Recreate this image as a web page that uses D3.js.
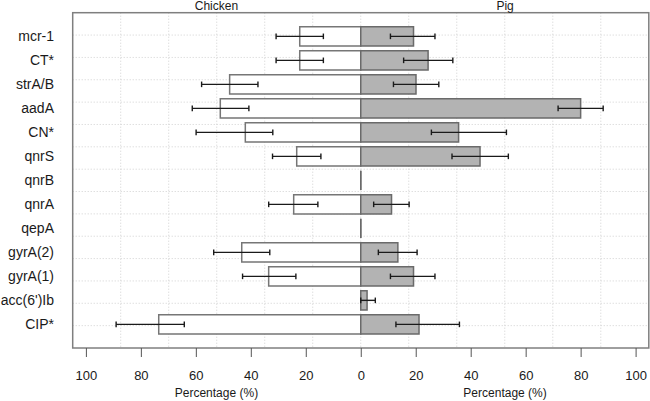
<!DOCTYPE html>
<html>
<head>
<meta charset="utf-8">
<script src="https://cdn.jsdelivr.net/npm/d3@7"></script>
<style>
  html, body { margin: 0; padding: 0; background: #fff; }
  svg { display: block; font-family: "Liberation Sans", Arial, Helvetica, sans-serif; }
</style>
</head>
<body>
<svg id="chart" width="650" height="401"></svg>
<script>
const categories = ["mcr-1", "CT*", "strA/B", "aadA", "CN*", "qnrS", "qnrB", "qnrA", "qepA", "gyrA(2)", "gyrA(1)", "acc(6')Ib", "CIP*"];

const chickenValues = [22.2, 22.2, 47.7, 51.1, 42.0, 23.3, 0, 24.4, 0, 43.3, 33.5, 0, 73.5];
const chickenLow    = [13.6, 13.6, 37.4, 40.7, 32.0, 14.5, null, 15.6, null, 33.1, 23.6, null, 64.2];
const chickenHigh   = [30.8, 30.8, 57.9, 61.3, 59.9, 32.1, null, 33.5, null, 53.5, 43.0, null, 89.0];

const pigValues = [19.2, 24.5, 20.1, 80.0, 35.6, 43.4, 0, 11.2, 0, 13.5, 19.2, 2.3, 21.2];
const pigLow    = [10.8, 15.6, 11.9, 71.8, 25.7, 33.2, null, 4.7, null, 6.4, 10.8, 0, 12.8];
const pigHigh   = [27.0, 33.5, 28.4, 88.2, 53.0, 53.7, null, 17.6, null, 20.5, 27.0, 5.3, 35.9];

const tickValues = [-100, -80, -60, -40, -20, 0, 20, 40, 60, 80, 100];
const groupTitles = ["Chicken", "Pig"];
const axisTitle = "Percentage (%)";

const svg = d3.select("#chart");
const box = { left: 72.7, right: 648.8, top: 12.7, bottom: 348 };

const x = d3.scaleLinear().domain([-104.8, 104.8]).range([box.left, box.right]);
const y = d3.scaleBand().domain(categories).range([box.top, box.bottom])
  .paddingInner(0.2).paddingOuter(0.585);

// grid (12 x 15 cells)
const grid = svg.append("g").attr("stroke", "#d0d0d0").attr("stroke-width", 1)
  .attr("stroke-dasharray", "1,2");
d3.range(1, 12).forEach(i => {
  const gx = box.left + i * (box.right - box.left) / 12;
  grid.append("line").attr("x1", gx).attr("x2", gx).attr("y1", box.top).attr("y2", box.bottom);
});
d3.range(1, 15).forEach(i => {
  const gy = box.top + i * (box.bottom - box.top) / 15;
  grid.append("line").attr("x1", box.left).attr("x2", box.right).attr("y1", gy).attr("y2", gy);
});

function barPath(x0, x1, y0, h) {
  return `M${x0},${y0}H${x1}V${y0 + h}H${x0}Z`;
}

const rows = categories.map((c, i) => ({
  cat: c,
  cv: chickenValues[i], cl: chickenLow[i], ch: chickenHigh[i],
  pv: pigValues[i], pl: pigLow[i], ph: pigHigh[i]
}));

// chicken bars (left, white)
svg.append("g").selectAll("path").data(rows).join("path")
  .attr("d", d => barPath(x(-d.cv), x(0), y(d.cat), y.bandwidth()))
  .attr("fill", "#ffffff").attr("stroke", "#767676").attr("stroke-width", 1.5);

// pig bars (right, gray)
svg.append("g").selectAll("path").data(rows).join("path")
  .attr("d", d => barPath(x(0), x(d.pv), y(d.cat), y.bandwidth()))
  .attr("fill", "#b3b3b3").attr("stroke", "#6a6a6a").attr("stroke-width", 1.5);

// error bars
const eb = svg.append("g").attr("stroke", "#1a1a1a").attr("stroke-width", 1.4).attr("fill", "none");
const cap = 2.8;
function errorBar(lo, hi, cy) {
  eb.append("line").attr("x1", x(lo)).attr("x2", x(hi)).attr("y1", cy).attr("y2", cy);
  eb.append("line").attr("x1", x(lo)).attr("x2", x(lo)).attr("y1", cy - cap).attr("y2", cy + cap);
  eb.append("line").attr("x1", x(hi)).attr("x2", x(hi)).attr("y1", cy - cap).attr("y2", cy + cap);
}
rows.forEach(d => {
  const cy = y(d.cat) + y.bandwidth() / 2;
  if (d.cl !== null) errorBar(-d.ch, -d.cl, cy);
  if (d.pl !== null) errorBar(d.pl, d.ph, cy);
});

// box
svg.append("rect").attr("x", box.left).attr("y", box.top)
  .attr("width", box.right - box.left).attr("height", box.bottom - box.top)
  .attr("fill", "none").attr("stroke", "#7f7f7f").attr("stroke-width", 1.5);

// category labels
svg.append("g").selectAll("text").data(categories).join("text")
  .attr("x", 54).attr("y", d => y(d) + y.bandwidth() / 2).attr("dy", "0.35em")
  .attr("text-anchor", "end").attr("font-size", 14).attr("fill", "#1a1a1a")
  .text(d => d);

// x axis
const axis = d3.axisBottom(x).tickValues(tickValues).tickFormat(d => Math.abs(d)).tickSizeInner(9).tickSizeOuter(0);
const ag = svg.append("g").attr("transform", `translate(0,${box.bottom})`).call(axis);
ag.select(".domain").remove();
ag.selectAll(".tick line").attr("stroke", "#555").attr("stroke-width", 1);
ag.selectAll(".tick text").attr("y", 27).attr("dy", "0.35em")
  .attr("font-size", 13).attr("fill", "#1a1a1a")
  .attr("font-family", "'Liberation Sans', Arial, Helvetica, sans-serif");

// axis titles
svg.append("g").selectAll("text").data([-52.5, 52.5]).join("text")
  .attr("x", d => x(d)).attr("y", 397).attr("text-anchor", "middle")
  .attr("font-size", 12).attr("fill", "#1a1a1a").text(axisTitle);

// group titles
svg.append("g").selectAll("text").data(groupTitles).join("text")
  .attr("x", (d, i) => x(i === 0 ? -52.5 : 52.5)).attr("y", 10.2).attr("text-anchor", "middle")
  .attr("font-size", 12).attr("fill", "#1a1a1a").text(d => d);
</script>
</body>
</html>
